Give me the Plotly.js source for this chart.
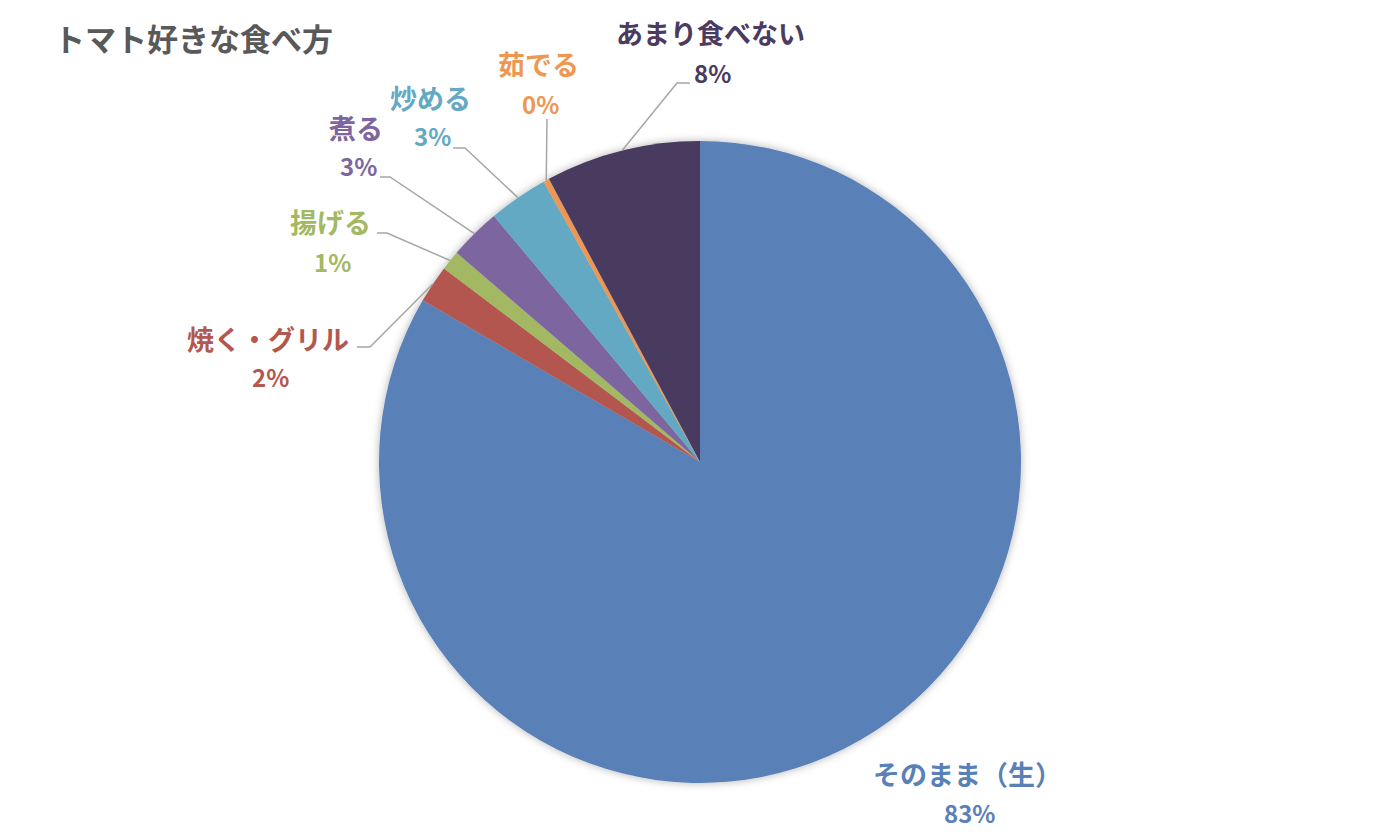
<!DOCTYPE html>
<html>
<head>
<meta charset="utf-8">
<script src="https://cdn.plot.ly/plotly-3.0.1.min.js"></script>
<style>
  html, body { margin: 0; padding: 0; background: #fff; }
  #chart { width: 1400px; height: 840px; }
</style>
</head>
<body>
<div id="chart"></div>
<script>
// Data (share of answers, %)
const labels = ['そのまま（生）', '焼く・グリル', '揚げる', '煮る', '炒める', '茹でる', 'あまり食べない'];
const values = [83.4, 1.9, 1.0, 2.6, 3.0, 0.3, 7.8];
const colors = ['#5A80B8', '#B3574F', '#A2B862', '#7D66A0', '#63A9C4', '#EE9752', '#4A3B5F'];

// Label placement (pixels): centre of the name line
const labelPos = [[967, 773], [268, 338], [330, 222], [356, 127], [430, 97], [538, 64], [710, 33]];
// Leader lines: elbow point and end point near the label (null = no line)
const leaderElbow = [null, [370, 347], [387, 233], [390, 177], [465, 148], [547, 119], [677, 83]];
const leaderEnd   = [null, [357, 347], [377, 233], [380, 177], [453, 148], [547, 119], [690, 83]];

const W = 1400, H = 840;
const CX = 700, CY = 462, R = 321;
const FONT = '"Noto Sans CJK JP", "Noto Sans", sans-serif';

const px = (x) => x / W;
const py = (y) => 1 - y / H;

const total = values.reduce((a, b) => a + b, 0);

// edge point at each slice's mid angle (clockwise from 12 o'clock)
const edgePts = [];
let acc = 0;
for (const v of values) {
    const mid = (acc + v / 2) / total * 2 * Math.PI;
    edgePts.push([CX + R * Math.sin(mid), CY - R * Math.cos(mid)]);
    acc += v;
}

const annotations = [{
    text: '<b>トマト好きな食べ方</b>',
    xref: 'paper', yref: 'paper', x: px(52), y: py(38),
    xanchor: 'left', yanchor: 'middle', showarrow: false,
    font: { family: FONT, size: 31, color: '#595959' }
}];
const shapes = [];

labels.forEach((lab, i) => {
    const [lx, ly] = labelPos[i];
    const pct = Math.round(values[i] / total * 100);
    annotations.push({
        text: '<b>' + lab + '</b>',
        xref: 'paper', yref: 'paper', x: px(lx), y: py(ly),
        xanchor: 'center', yanchor: 'middle', showarrow: false,
        font: { family: FONT, size: 27, color: colors[i] }
    });
    annotations.push({
        text: '<b>' + pct + '%</b>',
        xref: 'paper', yref: 'paper', x: px(lx + 2), y: py(ly + 39),
        xanchor: 'center', yanchor: 'middle', showarrow: false,
        font: { family: FONT, size: 24, color: colors[i] }
    });
    if (leaderElbow[i]) {
        const e = edgePts[i], b = leaderElbow[i], t = leaderEnd[i];
        shapes.push({
            type: 'path', xref: 'paper', yref: 'paper',
            path: 'M' + px(e[0]) + ',' + py(e[1]) + ' L' + px(b[0]) + ',' + py(b[1]) +
                  ' L' + px(t[0]) + ',' + py(t[1]),
            line: { color: '#A6A6A6', width: 1.5 }
        });
    }
});

const trace = {
    type: 'pie',
    labels, values,
    marker: { colors, line: { width: 0 } },
    sort: false,
    direction: 'clockwise',
    rotation: 0,
    textinfo: 'none',
    hoverinfo: 'label+percent',
    domain: { x: [px(CX - R), px(CX + R)], y: [py(CY + R), py(CY - R)] }
};

const layout = {
    width: W, height: H,
    margin: { t: 0, b: 0, l: 0, r: 0 },
    paper_bgcolor: '#fff',
    showlegend: false,
    annotations, shapes
};

Plotly.newPlot('chart', [trace], layout, { displayModeBar: false, staticPlot: true }).then(() => {
    // soft shadow round the pie
    const svg = document.querySelector('#chart .main-svg');
    const ns = 'http://www.w3.org/2000/svg';
    let defs = svg.querySelector('defs');
    if (!defs) { defs = document.createElementNS(ns, 'defs'); svg.prepend(defs); }
    const f = document.createElementNS(ns, 'filter');
    f.setAttribute('id', 'pieShadow');
    f.setAttribute('x', '-10%'); f.setAttribute('y', '-10%');
    f.setAttribute('width', '120%'); f.setAttribute('height', '120%');
    const ds = document.createElementNS(ns, 'feDropShadow');
    ds.setAttribute('dx', '0'); ds.setAttribute('dy', '0');
    ds.setAttribute('stdDeviation', '4');
    ds.setAttribute('flood-color', '#000'); ds.setAttribute('flood-opacity', '0.3');
    f.appendChild(ds);
    defs.appendChild(f);
    const pie = svg.querySelector('.pielayer');
    if (pie) pie.setAttribute('filter', 'url(#pieShadow)');
});
</script>
</body>
</html>
